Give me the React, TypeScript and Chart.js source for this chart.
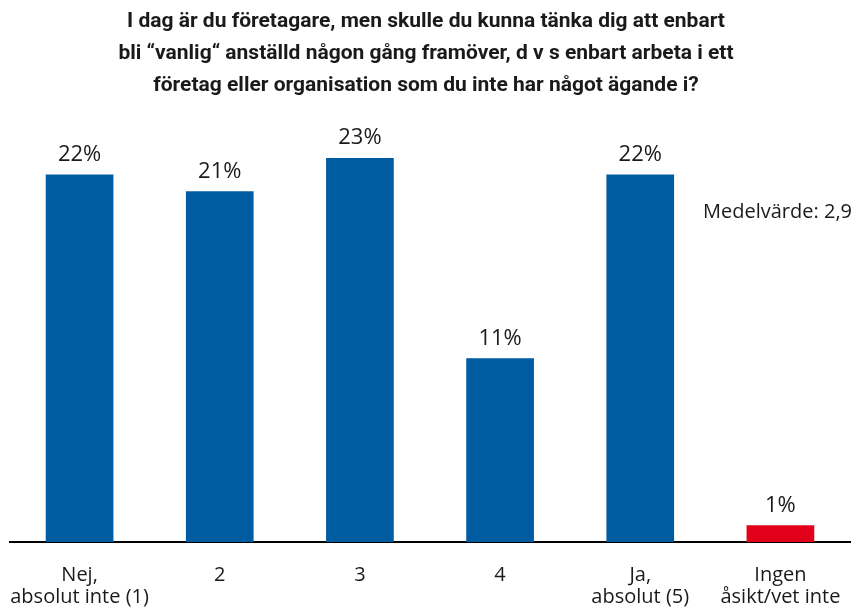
import React, { useEffect, useRef } from "react";
import { Chart, registerables } from "chart.js";

Chart.register(...registerables);

const titleLines = [
  "I dag är du företagare, men skulle du kunna tänka dig att enbart",
  "bli “vanlig“ anställd någon gång framöver, d v s enbart arbeta i ett",
  "företag eller organisation som du inte har något ägande i?",
];
const categories: string[][] = [
  ["Nej,", "absolut inte (1)"],
  ["2"],
  ["3"],
  ["4"],
  ["Ja,", "absolut (5)"],
  ["Ingen", "åsikt/vet inte"],
];
const values = [22, 21, 23, 11, 22, 1];
const barColors = ["#005CA0", "#005CA0", "#005CA0", "#005CA0", "#005CA0", "#E2001A"];
const meanLabel = "Medelvärde: 2,9";
const yMax = 25;

const textPlugin = {
  id: "textPlugin",
  afterDatasetsDraw(chart: any) {
    const ctx = chart.ctx;
    ctx.save();
    // title
    ctx.fillStyle = "#1a1a1a";
    ctx.textAlign = "center";
    ctx.textBaseline = "middle";
    ctx.font = "bold 21px Roboto";
    const ty = [22, 54, 86];
    titleLines.forEach((l, i) => ctx.fillText(l, 426, ty[i]));
    // data labels
    ctx.font = "22px 'Open Sans'";
    const meta = chart.getDatasetMeta(0);
    meta.data.forEach((bar: any, i: number) => {
      ctx.fillText(values[i] + "%", bar.x, bar.y - 20);
    });
    // mean
    ctx.font = "20px 'Open Sans'";
    ctx.textAlign = "right";
    ctx.fillText(meanLabel, 852, 212);
    ctx.restore();
  },
};

export default function App() {
  const ref = useRef<HTMLCanvasElement>(null);
  useEffect(() => {
    document.body.style.margin = "0";
    const chart = new Chart(ref.current!, {
      type: "bar",
      data: {
        labels: categories,
        datasets: [
          {
            data: values,
            backgroundColor: barColors,
            categoryPercentage: 1,
            barPercentage: 0.483,
          },
        ],
      },
      options: {
        responsive: false,
        animation: false,
        layout: { padding: { left: 9.5, right: 2.5, top: 124.5, bottom: 0 } },
        plugins: {
          legend: { display: false },
          title: { display: false },
          tooltip: { enabled: false },
        },
        scales: {
          x: {
            grid: { display: false, drawTicks: false },
            border: { display: true, color: "#000", width: 2 },
            ticks: {
              color: "#1a1a1a",
              padding: 22,
              font: { family: "'Open Sans'", size: 20, lineHeight: 1.1 },
              maxRotation: 0,
              autoSkip: false,
            },
            afterFit: (s: any) => {
              s.height = 65;
              s.paddingLeft = 0;
              s.paddingRight = 0;
            },
          },
          y: { display: false, min: 0, max: yMax },
        },
      },
      plugins: [textPlugin],
    });
    return () => chart.destroy();
  }, []);
  return (
    <div style={{ width: 853, height: 607 }}>
      <canvas ref={ref} width={853} height={607} />
    </div>
  );
}
